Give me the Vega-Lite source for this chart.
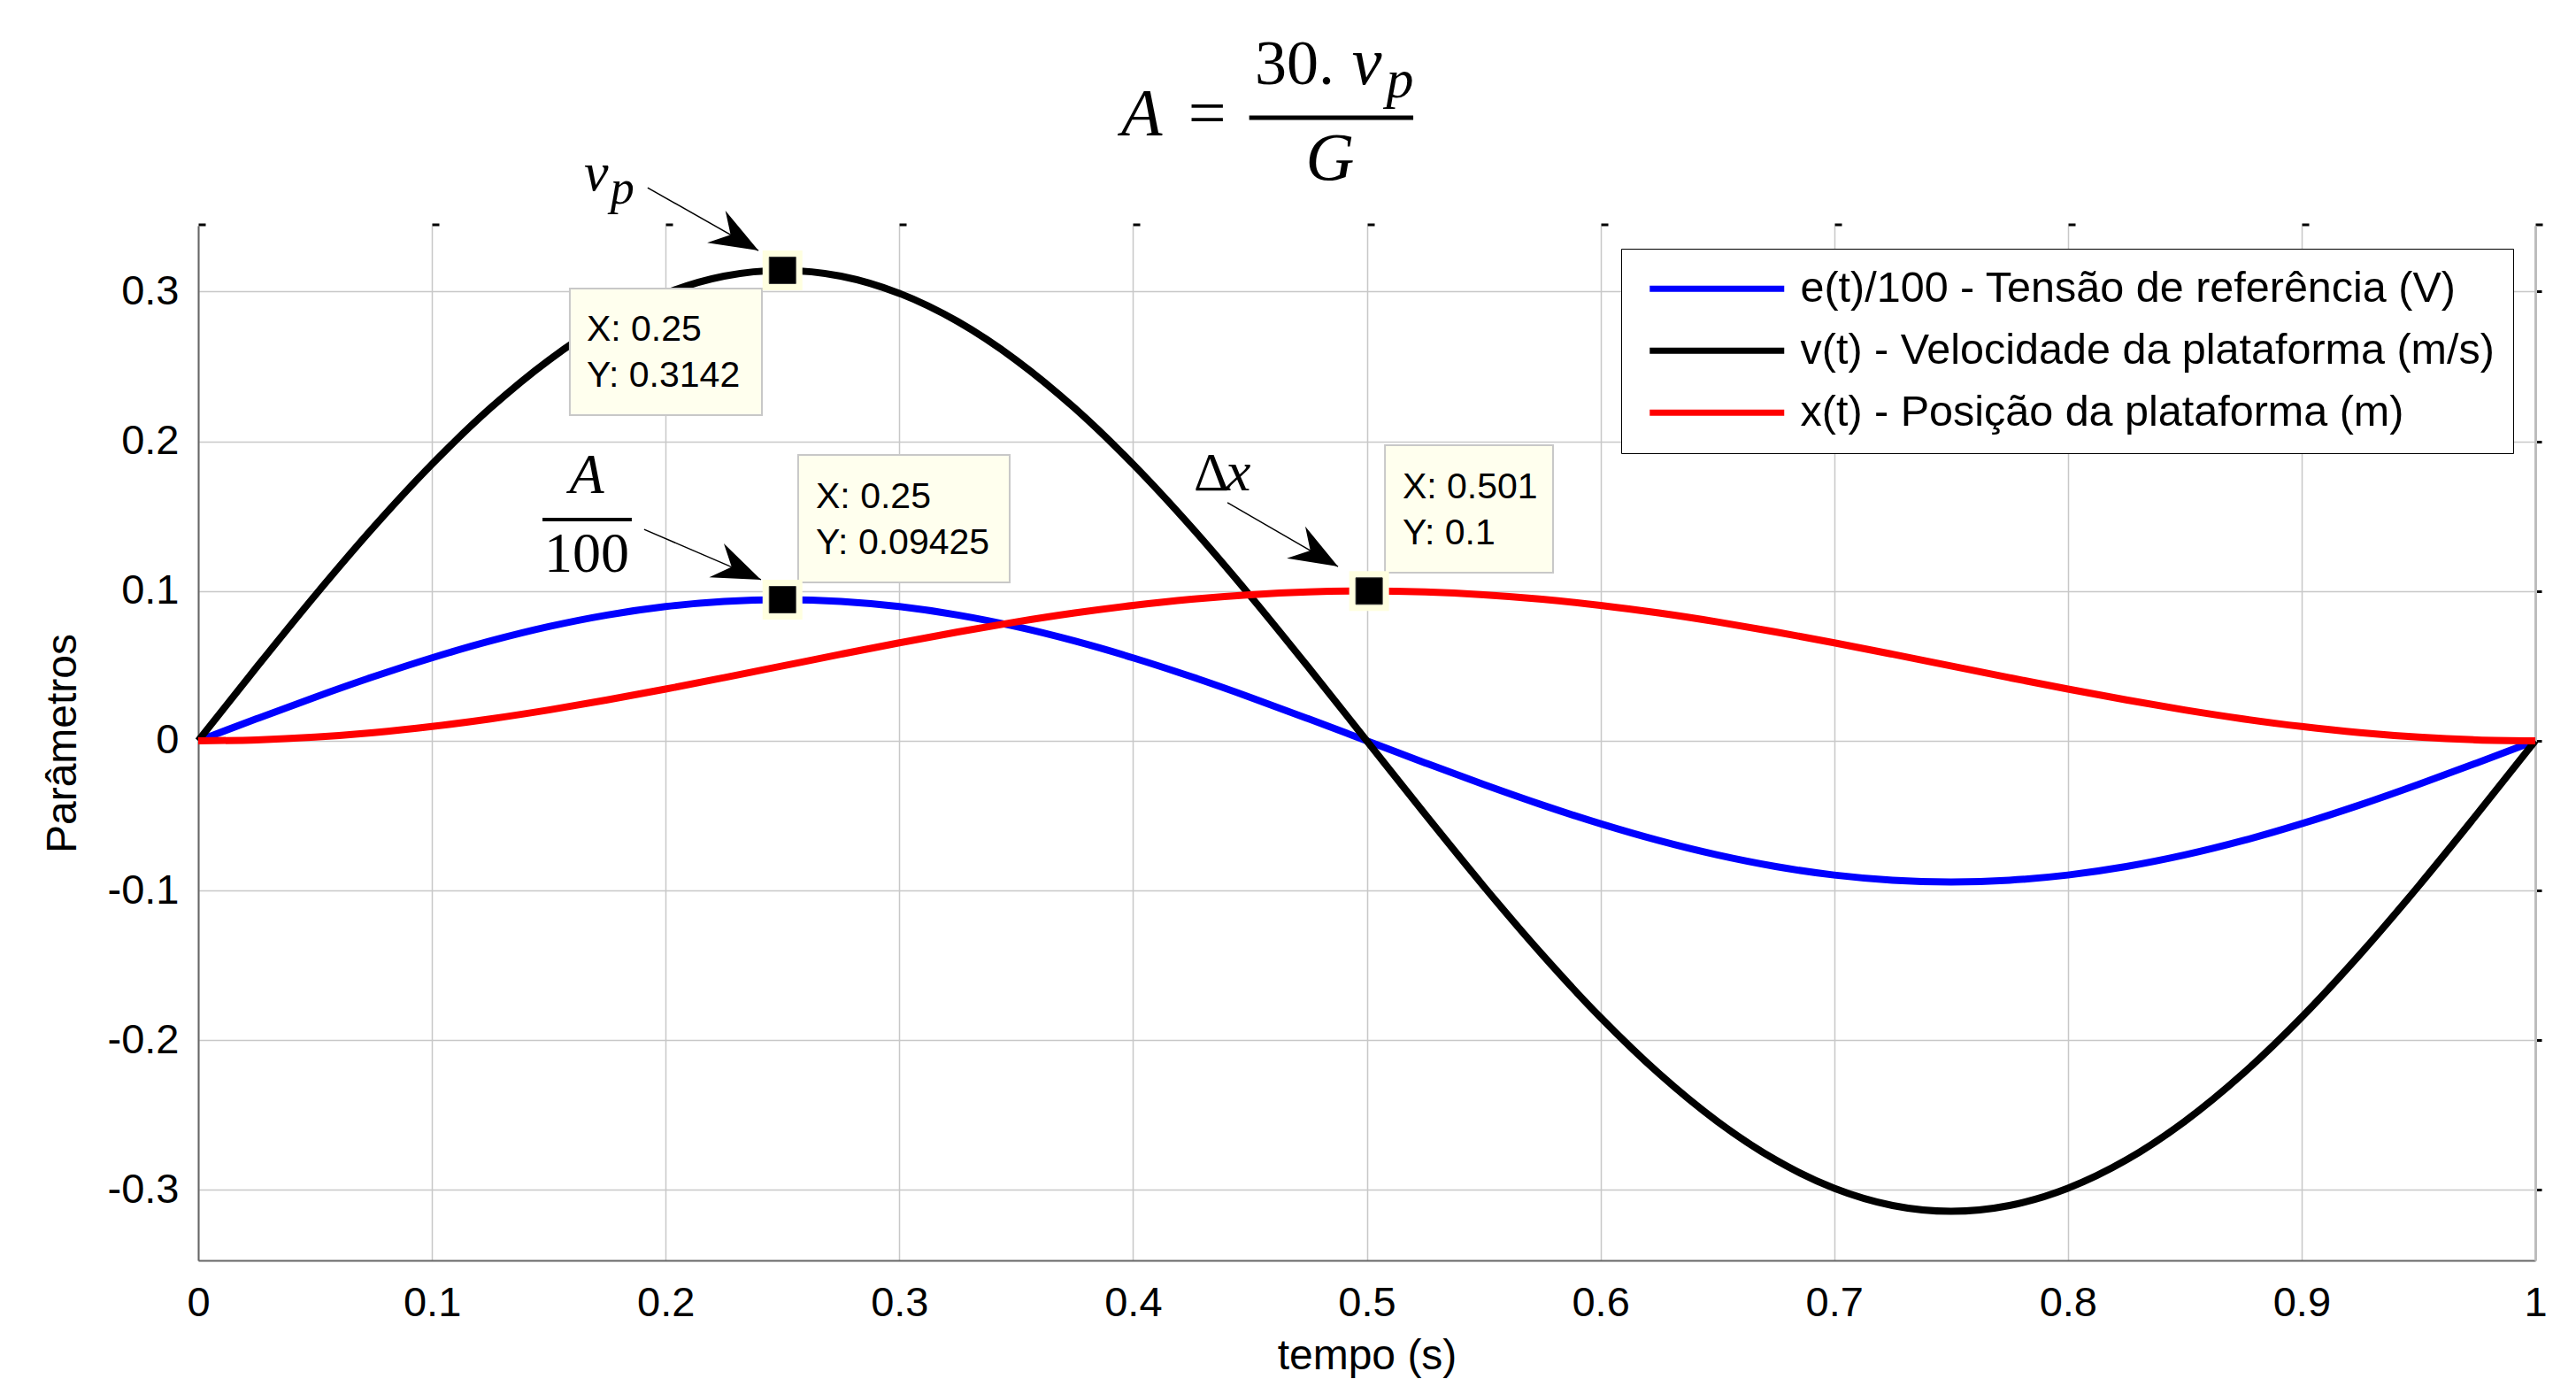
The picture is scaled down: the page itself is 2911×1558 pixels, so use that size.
{
  "$schema": "https://vega.github.io/schema/vega-lite/v6.json",
  "width": 2641,
  "height": 1169,
  "autosize": {"type": "none"},
  "padding": {"left": 224, "top": 255, "right": 46, "bottom": 134},
  "background": "white",
  "config": {
    "view": {"stroke": null},
    "font": "Liberation Sans",
    "text": {"color": "#000000"}
  },
  "datasets": {
    "curves": [
      {"t": 0, "e": 0, "v": 0, "x": 0},
      {"t": 0.025, "e": 0.01474, "v": 0.04915, "x": 0.00062},
      {"t": 0.05, "e": 0.02913, "v": 0.09709, "x": 0.00245},
      {"t": 0.075, "e": 0.04279, "v": 0.14264, "x": 0.00545},
      {"t": 0.1, "e": 0.0554, "v": 0.18468, "x": 0.00955},
      {"t": 0.125, "e": 0.06664, "v": 0.22217, "x": 0.01464},
      {"t": 0.15, "e": 0.07625, "v": 0.25419, "x": 0.02061},
      {"t": 0.175, "e": 0.08398, "v": 0.27996, "x": 0.0273},
      {"t": 0.2, "e": 0.08964, "v": 0.29882, "x": 0.03455},
      {"t": 0.225, "e": 0.09309, "v": 0.31033, "x": 0.04218},
      {"t": 0.25, "e": 0.09425, "v": 0.3142, "x": 0.05},
      {"t": 0.275, "e": 0.09309, "v": 0.31033, "x": 0.05782},
      {"t": 0.3, "e": 0.08964, "v": 0.29882, "x": 0.06545},
      {"t": 0.325, "e": 0.08398, "v": 0.27996, "x": 0.0727},
      {"t": 0.35, "e": 0.07625, "v": 0.25419, "x": 0.07939},
      {"t": 0.375, "e": 0.06664, "v": 0.22217, "x": 0.08536},
      {"t": 0.4, "e": 0.0554, "v": 0.18468, "x": 0.09045},
      {"t": 0.425, "e": 0.04279, "v": 0.14264, "x": 0.09455},
      {"t": 0.45, "e": 0.02913, "v": 0.09709, "x": 0.09755},
      {"t": 0.475, "e": 0.01474, "v": 0.04915, "x": 0.09938},
      {"t": 0.5, "e": 0, "v": 0, "x": 0.1},
      {"t": 0.525, "e": -0.01474, "v": -0.04915, "x": 0.09938},
      {"t": 0.55, "e": -0.02913, "v": -0.09709, "x": 0.09755},
      {"t": 0.575, "e": -0.04279, "v": -0.14264, "x": 0.09455},
      {"t": 0.6, "e": -0.0554, "v": -0.18468, "x": 0.09045},
      {"t": 0.625, "e": -0.06664, "v": -0.22217, "x": 0.08536},
      {"t": 0.65, "e": -0.07625, "v": -0.25419, "x": 0.07939},
      {"t": 0.675, "e": -0.08398, "v": -0.27996, "x": 0.0727},
      {"t": 0.7, "e": -0.08964, "v": -0.29882, "x": 0.06545},
      {"t": 0.725, "e": -0.09309, "v": -0.31033, "x": 0.05782},
      {"t": 0.75, "e": -0.09425, "v": -0.3142, "x": 0.05},
      {"t": 0.775, "e": -0.09309, "v": -0.31033, "x": 0.04218},
      {"t": 0.8, "e": -0.08964, "v": -0.29882, "x": 0.03455},
      {"t": 0.825, "e": -0.08398, "v": -0.27996, "x": 0.0273},
      {"t": 0.85, "e": -0.07625, "v": -0.25419, "x": 0.02061},
      {"t": 0.875, "e": -0.06664, "v": -0.22217, "x": 0.01464},
      {"t": 0.9, "e": -0.0554, "v": -0.18468, "x": 0.00955},
      {"t": 0.925, "e": -0.04279, "v": -0.14264, "x": 0.00545},
      {"t": 0.95, "e": -0.02913, "v": -0.09709, "x": 0.00245},
      {"t": 0.975, "e": -0.01474, "v": -0.04915, "x": 0.00062},
      {"t": 1, "e": 0, "v": 0, "x": 0}
    ],
    "tips": [
      {"x": 0.25, "y": 0.3142},
      {"x": 0.25, "y": 0.09425},
      {"x": 0.501, "y": 0.1}
    ]
  },
  "resolve": {"axis": {"x": "independent", "y": "independent"}},
  "layer": [
    {
      "data": {"name": "curves"},
      "transform": [{"fold": ["e", "v", "x"], "as": ["serie", "valor"]}],
      "mark": {"type": "line", "strokeWidth": 8, "interpolate": "monotone"},
      "encoding": {
        "x": {
          "field": "t", "type": "quantitative", "title": "tempo (s)",
          "scale": {"domain": [0, 1], "nice": false, "zero": false},
          "axis": {
            "orient": "bottom",
            "values": [0, 0.1, 0.2, 0.3, 0.4, 0.5, 0.6, 0.7, 0.8, 0.9, 1],
            "labelExpr": "format(datum.value, '.1~f')",
            "grid": true, "gridColor": "#c8c8c8", "gridWidth": 1.5,
            "ticks": false, "tickSize": 0,
            "domainColor": "#666666", "domainWidth": 2,
            "labelFont": "Liberation Sans", "labelFontSize": 47, "labelColor": "#000000",
            "labelPadding": 25, "labelFlush": false, "labelOverlap": false,
            "titleFont": "Liberation Sans", "titleFontSize": 48, "titleFontWeight": "normal",
            "titleColor": "#000000", "titlePadding": 13
          }
        },
        "y": {
          "field": "valor", "type": "quantitative", "title": "Parâmetros",
          "scale": {"domain": [-0.347, 0.344], "nice": false, "zero": false},
          "axis": {
            "orient": "left",
            "values": [-0.3, -0.2, -0.1, 0, 0.1, 0.2, 0.3],
            "labelExpr": "datum.value < 0 ? '-' + format(-datum.value, '.1~f') : format(datum.value, '.1~f')",
            "grid": true, "gridColor": "#c8c8c8", "gridWidth": 1.5,
            "ticks": false, "tickSize": 0,
            "domainColor": "#666666", "domainWidth": 2,
            "labelFont": "Liberation Sans", "labelFontSize": 47, "labelColor": "#000000",
            "labelPadding": 22, "labelFlush": false, "labelOverlap": false,
            "titleFont": "Liberation Sans", "titleFontSize": 48, "titleFontWeight": "normal",
            "titleColor": "#000000", "titlePadding": 26
          }
        },
        "color": {
          "field": "serie", "type": "nominal",
          "scale": {"domain": ["e", "v", "x"], "range": ["#0000ff", "#000000", "#ff0000"]},
          "legend": {
            "orient": "none", "legendX": 1608, "legendY": 26,
            "title": null,
            "strokeColor": "#000000", "fillColor": "#ffffff",
            "padding": 21,
            "symbolType": "M-4,0L4,0", "symbolSize": 1444, "symbolStrokeWidth": 7,
            "symbolOffset": 63, "labelOffset": 70,
            "labelFont": "Liberation Sans", "labelFontSize": 48.5, "labelColor": "#000000",
            "labelLimit": 3000, "rowPadding": 21,
            "labelExpr": "datum.value == 'e' ? 'e(t)/100 - Tensão de referência (V)' : datum.value == 'v' ? 'v(t) - Velocidade da plataforma (m/s)' : 'x(t) - Posição da plataforma (m)'"
          }
        }
      }
    },
    {
      "data": {"values": [{}]},
      "mark": {"type": "rect", "fill": "#ffffee", "stroke": "#c8c8c8", "strokeWidth": 2},
      "encoding": {
        "x": {"datum": 0.159, "type": "quantitative", "axis": null},
        "x2": {"datum": 0.2412},
        "y": {"datum": 0.302, "type": "quantitative", "axis": null},
        "y2": {"datum": 0.2175}
      }
    },
    {
      "data": {"values": [{}]},
      "mark": {"type": "rect", "fill": "#ffffee", "stroke": "#c8c8c8", "strokeWidth": 2},
      "encoding": {
        "x": {"datum": 0.2567, "type": "quantitative", "axis": null},
        "x2": {"datum": 0.3472},
        "y": {"datum": 0.1909, "type": "quantitative", "axis": null},
        "y2": {"datum": 0.1058}
      }
    },
    {
      "data": {"values": [{}]},
      "mark": {"type": "rect", "fill": "#ffffee", "stroke": "#c8c8c8", "strokeWidth": 2},
      "encoding": {
        "x": {"datum": 0.5078, "type": "quantitative", "axis": null},
        "x2": {"datum": 0.5797},
        "y": {"datum": 0.1974, "type": "quantitative", "axis": null},
        "y2": {"datum": 0.1123}
      }
    },
    {
      "data": {"values": [{}]},
      "mark": {"type": "text", "text": ["X: 0.25", "Y: 0.3142"], "align": "left", "baseline": "alphabetic", "font": "Liberation Sans", "fontSize": 41, "lineHeight": 52, "color": "#000000"},
      "encoding": {
        "x": {"datum": 0.1662, "type": "quantitative", "axis": null},
        "y": {"datum": 0.2672, "type": "quantitative", "axis": null}
      }
    },
    {
      "data": {"values": [{}]},
      "mark": {"type": "text", "text": ["X: 0.25", "Y: 0.09425"], "align": "left", "baseline": "alphabetic", "font": "Liberation Sans", "fontSize": 41, "lineHeight": 52, "color": "#000000"},
      "encoding": {
        "x": {"datum": 0.2643, "type": "quantitative", "axis": null},
        "y": {"datum": 0.1554, "type": "quantitative", "axis": null}
      }
    },
    {
      "data": {"values": [{}]},
      "mark": {"type": "text", "text": ["X: 0.501", "Y: 0.1"], "align": "left", "baseline": "alphabetic", "font": "Liberation Sans", "fontSize": 41, "lineHeight": 52, "color": "#000000"},
      "encoding": {
        "x": {"datum": 0.5153, "type": "quantitative", "axis": null},
        "y": {"datum": 0.1619, "type": "quantitative", "axis": null}
      }
    },
    {
      "data": {"name": "tips"},
      "mark": {"type": "point", "shape": "square", "filled": true, "fill": "#ffffe0", "size": 2025, "opacity": 1, "strokeWidth": 0},
      "encoding": {
        "x": {
          "field": "x", "type": "quantitative",
          "axis": {
            "orient": "top", "values": [0, 0.1, 0.2, 0.3, 0.4, 0.5, 0.6, 0.7, 0.8, 0.9, 1],
            "labels": false, "domain": false, "grid": false, "ticks": true,
            "tickSize": 3, "tickWidth": 8, "tickColor": "#000000", "tickOffset": 4, "title": null
          }
        },
        "y": {
          "field": "y", "type": "quantitative",
          "axis": {
            "orient": "right", "values": [-0.3, -0.2, -0.1, 0, 0.1, 0.2, 0.3],
            "labels": false, "domain": true, "domainColor": "#bdbdbd", "domainWidth": 3,
            "grid": false, "ticks": true, "tickSize": 7, "tickWidth": 3, "tickColor": "#000000", "title": null
          }
        }
      }
    },
    {
      "data": {"name": "tips"},
      "mark": {"type": "point", "shape": "square", "filled": true, "fill": "#000000", "stroke": "#333333", "strokeWidth": 1, "size": 900, "opacity": 1},
      "encoding": {
        "x": {"field": "x", "type": "quantitative", "axis": null},
        "y": {"field": "y", "type": "quantitative", "axis": null}
      }
    },
    {
      "data": {"values": [{}]},
      "mark": {"type": "rule", "color": "#000000", "strokeWidth": 1.5},
      "encoding": {
        "x": {"datum": 0.1923, "type": "quantitative", "axis": null},
        "y": {"datum": 0.3694, "type": "quantitative", "axis": null},
        "x2": {"datum": 0.2397},
        "y2": {"datum": 0.3274}
      }
    },
    {
      "data": {"values": [{}]},
      "mark": {"type": "rule", "color": "#000000", "strokeWidth": 1.5},
      "encoding": {
        "x": {"datum": 0.1908, "type": "quantitative", "axis": null},
        "y": {"datum": 0.1412, "type": "quantitative", "axis": null},
        "x2": {"datum": 0.2408},
        "y2": {"datum": 0.1076}
      }
    },
    {
      "data": {"values": [{}]},
      "mark": {"type": "rule", "color": "#000000", "strokeWidth": 1.5},
      "encoding": {
        "x": {"datum": 0.4404, "type": "quantitative", "axis": null},
        "y": {"datum": 0.159, "type": "quantitative", "axis": null},
        "x2": {"datum": 0.4877},
        "y2": {"datum": 0.1164}
      }
    },
    {
      "data": {"values": [{}]},
      "mark": {"type": "point", "shape": "M0,0L0.38,1L0,0.66L-0.38,1Z", "filled": true, "fill": "#000000", "strokeWidth": 0, "size": 12000, "angle": 119.6, "opacity": 1},
      "encoding": {
        "x": {"datum": 0.2397, "type": "quantitative", "axis": null},
        "y": {"datum": 0.3274, "type": "quantitative", "axis": null}
      }
    },
    {
      "data": {"values": [{}]},
      "mark": {"type": "point", "shape": "M0,0L0.38,1L0,0.66L-0.38,1Z", "filled": true, "fill": "#000000", "strokeWidth": 0, "size": 12000, "angle": 113.4, "opacity": 1},
      "encoding": {
        "x": {"datum": 0.2408, "type": "quantitative", "axis": null},
        "y": {"datum": 0.1076, "type": "quantitative", "axis": null}
      }
    },
    {
      "data": {"values": [{}]},
      "mark": {"type": "point", "shape": "M0,0L0.38,1L0,0.66L-0.38,1Z", "filled": true, "fill": "#000000", "strokeWidth": 0, "size": 12000, "angle": 120, "opacity": 1},
      "encoding": {
        "x": {"datum": 0.4877, "type": "quantitative", "axis": null},
        "y": {"datum": 0.1164, "type": "quantitative", "axis": null}
      }
    },
    {
      "data": {"values": [{}]},
      "mark": {"type": "text", "text": "v", "align": "left", "baseline": "alphabetic", "font": "Liberation Serif", "fontStyle": "italic", "fontSize": 62},
      "encoding": {
        "x": {"datum": 0.1651, "type": "quantitative", "axis": null},
        "y": {"datum": 0.3676, "type": "quantitative", "axis": null}
      }
    },
    {
      "data": {"values": [{}]},
      "mark": {"type": "text", "text": "p", "align": "left", "baseline": "alphabetic", "font": "Liberation Serif", "fontStyle": "italic", "fontSize": 54},
      "encoding": {
        "x": {"datum": 0.1764, "type": "quantitative", "axis": null},
        "y": {"datum": 0.3588, "type": "quantitative", "axis": null}
      }
    },
    {
      "data": {"values": [{}]},
      "mark": {"type": "text", "text": "A", "align": "center", "baseline": "alphabetic", "font": "Liberation Serif", "fontStyle": "italic", "fontSize": 64},
      "encoding": {
        "x": {"datum": 0.1662, "type": "quantitative", "axis": null},
        "y": {"datum": 0.1655, "type": "quantitative", "axis": null}
      }
    },
    {
      "data": {"values": [{}]},
      "mark": {"type": "rule", "color": "#000000", "strokeWidth": 4},
      "encoding": {
        "x": {"datum": 0.1473, "type": "quantitative", "axis": null},
        "x2": {"datum": 0.1855},
        "y": {"datum": 0.1477, "type": "quantitative", "axis": null}
      }
    },
    {
      "data": {"values": [{}]},
      "mark": {"type": "text", "text": "100", "align": "center", "baseline": "alphabetic", "font": "Liberation Serif", "fontSize": 64},
      "encoding": {
        "x": {"datum": 0.1662, "type": "quantitative", "axis": null},
        "y": {"datum": 0.1129, "type": "quantitative", "axis": null}
      }
    },
    {
      "data": {"values": [{}]},
      "mark": {"type": "text", "text": "Δ", "align": "left", "baseline": "alphabetic", "font": "Liberation Serif", "fontSize": 62},
      "encoding": {
        "x": {"datum": 0.426, "type": "quantitative", "axis": null},
        "y": {"datum": 0.1673, "type": "quantitative", "axis": null}
      }
    },
    {
      "data": {"values": [{}]},
      "mark": {"type": "text", "text": "x", "align": "left", "baseline": "alphabetic", "font": "Liberation Serif", "fontStyle": "italic", "fontSize": 64},
      "encoding": {
        "x": {"datum": 0.4396, "type": "quantitative", "axis": null},
        "y": {"datum": 0.1673, "type": "quantitative", "axis": null}
      }
    },
    {
      "data": {"values": [{}]},
      "mark": {"type": "text", "text": "A", "align": "left", "baseline": "alphabetic", "font": "Liberation Serif", "fontStyle": "italic", "fontSize": 76},
      "encoding": {
        "x": {"datum": 0.3949, "type": "quantitative", "axis": null},
        "y": {"datum": 0.4043, "type": "quantitative", "axis": null}
      }
    },
    {
      "data": {"values": [{}]},
      "mark": {"type": "text", "text": "=", "align": "center", "baseline": "alphabetic", "font": "Liberation Serif", "fontSize": 76},
      "encoding": {
        "x": {"datum": 0.4317, "type": "quantitative", "axis": null},
        "y": {"datum": 0.4043, "type": "quantitative", "axis": null}
      }
    },
    {
      "data": {"values": [{}]},
      "mark": {"type": "rule", "color": "#000000", "strokeWidth": 5},
      "encoding": {
        "x": {"datum": 0.4497, "type": "quantitative", "axis": null},
        "x2": {"datum": 0.5199},
        "y": {"datum": 0.4161, "type": "quantitative", "axis": null}
      }
    },
    {
      "data": {"values": [{}]},
      "mark": {"type": "text", "text": "30.", "align": "left", "baseline": "alphabetic", "font": "Liberation Serif", "fontSize": 72},
      "encoding": {
        "x": {"datum": 0.4521, "type": "quantitative", "axis": null},
        "y": {"datum": 0.4386, "type": "quantitative", "axis": null}
      }
    },
    {
      "data": {"values": [{}]},
      "mark": {"type": "text", "text": "v", "align": "left", "baseline": "alphabetic", "font": "Liberation Serif", "fontStyle": "italic", "fontSize": 76},
      "encoding": {
        "x": {"datum": 0.4937, "type": "quantitative", "axis": null},
        "y": {"datum": 0.4386, "type": "quantitative", "axis": null}
      }
    },
    {
      "data": {"values": [{}]},
      "mark": {"type": "text", "text": "p", "align": "left", "baseline": "alphabetic", "font": "Liberation Serif", "fontStyle": "italic", "fontSize": 62},
      "encoding": {
        "x": {"datum": 0.5083, "type": "quantitative", "axis": null},
        "y": {"datum": 0.4297, "type": "quantitative", "axis": null}
      }
    },
    {
      "data": {"values": [{}]},
      "mark": {"type": "text", "text": "G", "align": "center", "baseline": "alphabetic", "font": "Liberation Serif", "fontStyle": "italic", "fontSize": 76},
      "encoding": {
        "x": {"datum": 0.4843, "type": "quantitative", "axis": null},
        "y": {"datum": 0.3747, "type": "quantitative", "axis": null}
      }
    }
  ]
}
